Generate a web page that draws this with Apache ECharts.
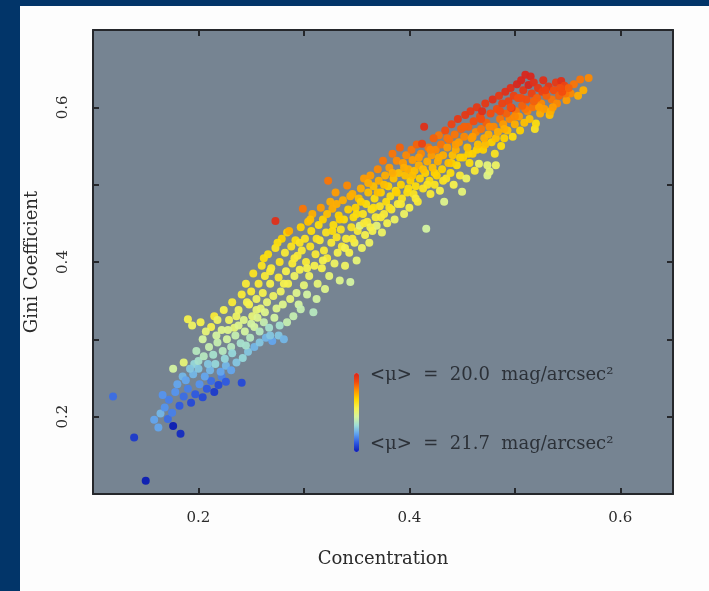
<!DOCTYPE html>
<html>
<head>
<meta charset="utf-8">
<title>Gini vs Concentration</title>
<script src="https://cdn.jsdelivr.net/npm/echarts@6/dist/echarts.min.js"></script>
<style>
  html, body { margin: 0; padding: 0; }
  body { width: 709px; height: 591px; background: #023569; position: relative; overflow: hidden; }
  #panel { position: absolute; left: 20px; top: 6px; right: 0; bottom: 0; background: #fdfdfd; }
  #main { position: absolute; left: 0; top: 0; width: 709px; height: 591px; }
</style>
</head>
<body>
<div id="panel"></div>
<div id="main"></div>
<script>
"use strict";

// [concentration, gini, <mu> mag/arcsec^2]
var blueTail = [
	[0.119,0.226,21.45],[0.139,0.173,21.6],[0.150,0.117,21.7],[0.158,0.196,21.3],[0.162,0.186,21.3],
	[0.164,0.204,21.25],[0.168,0.212,21.35],[0.171,0.197,21.45],[0.172,0.222,21.4],[0.175,0.205,21.4],
	[0.176,0.188,21.7],[0.178,0.232,21.35],[0.183,0.178,21.65],[0.182,0.214,21.5],[0.186,0.226,21.45],
	[0.190,0.236,21.4],[0.193,0.218,21.55],[0.197,0.229,21.5],[0.201,0.242,21.35],[0.204,0.225,21.55],
	[0.208,0.236,21.5],[0.212,0.246,21.45],[0.215,0.232,21.6],[0.219,0.241,21.55],[0.222,0.252,21.4],
	[0.226,0.245,21.5],[0.241,0.244,21.55],[0.166,0.228,21.35],[0.180,0.242,21.3],[0.185,0.252,21.25]
];

var cyanBand = [
	[0.176,0.262,20.95],[0.186,0.270,20.85],[0.188,0.247,21.3],[0.195,0.255,21.25],[0.196,0.268,21.15],
	[0.200,0.262,21.2],[0.200,0.272,21.1],[0.205,0.278,21.05],[0.206,0.252,21.3],[0.210,0.290,21.0],
	[0.211,0.260,21.25],[0.214,0.280,21.1],[0.216,0.268,21.15],[0.218,0.296,21.0],[0.221,0.258,21.3],
	[0.223,0.285,21.05],[0.226,0.266,21.25],[0.227,0.300,20.95],[0.231,0.290,21.05],[0.231,0.260,21.3],
	[0.235,0.305,21.0],[0.236,0.270,21.2],[0.240,0.295,21.1],[0.242,0.276,21.15],[0.244,0.310,20.95],
	[0.247,0.284,21.2],[0.249,0.302,21.05],[0.253,0.316,20.95],[0.253,0.290,21.25],[0.258,0.310,21.05],
	[0.258,0.296,21.2],[0.262,0.322,21.0],[0.264,0.302,21.25],[0.267,0.315,21.1],[0.270,0.298,21.3],
	[0.272,0.328,20.95],[0.276,0.305,21.2],[0.281,0.300,21.25],[0.284,0.322,21.0],[0.290,0.330,21.0],
	[0.295,0.345,20.95],[0.297,0.339,21.0],[0.303,0.358,20.95],[0.309,0.335,21.05],[0.312,0.352,20.95],
	[0.192,0.262,21.2],[0.198,0.285,21.05],[0.204,0.300,20.95],[0.209,0.268,21.2],[0.217,0.305,20.95],
	[0.225,0.275,21.15],[0.232,0.282,21.15],[0.245,0.292,21.1],[0.250,0.320,20.95],[0.268,0.305,21.2],
	[0.277,0.318,21.1]
];

var yellowBand = [
	[0.190,0.326,20.75],[0.202,0.322,20.75],[0.212,0.316,20.75],[0.215,0.330,20.7],[0.222,0.312,20.9],
	[0.224,0.338,20.75],[0.229,0.325,20.8],[0.232,0.348,20.7],[0.234,0.315,20.85],[0.238,0.338,20.8],
	[0.241,0.358,20.7],[0.243,0.325,20.9],[0.245,0.372,20.7],[0.248,0.345,20.75],[0.250,0.362,20.7],
	[0.251,0.330,20.85],[0.252,0.385,20.65],[0.255,0.352,20.8],[0.257,0.372,20.7],[0.259,0.340,20.85],
	[0.260,0.395,20.65],[0.261,0.360,20.75],[0.263,0.382,20.7],[0.265,0.348,20.85],[0.266,0.410,20.6],
	[0.268,0.372,20.75],[0.269,0.392,20.7],[0.271,0.356,20.8],[0.273,0.418,20.65],[0.274,0.340,20.9],
	[0.276,0.380,20.7],[0.277,0.400,20.65],[0.278,0.362,20.8],[0.279,0.430,20.55],[0.280,0.345,20.9],
	[0.282,0.412,20.7],[0.283,0.388,20.75],[0.285,0.372,20.75],[0.287,0.352,20.85],[0.288,0.420,20.65],
	[0.289,0.398,20.7],[0.291,0.382,20.8],[0.292,0.428,20.6],[0.293,0.360,20.9],[0.294,0.408,20.7],
	[0.296,0.390,20.75],[0.297,0.445,20.55],[0.298,0.415,20.7],[0.300,0.370,20.85],[0.301,0.430,20.65],
	[0.302,0.400,20.7],[0.305,0.382,20.8],[0.306,0.420,20.65],[0.307,0.440,20.6],[0.310,0.395,20.75],
	[0.311,0.410,20.7],[0.313,0.372,20.85],[0.314,0.448,20.6],[0.315,0.428,20.7],[0.317,0.392,20.75],
	[0.318,0.455,20.55],[0.319,0.415,20.7],[0.320,0.365,20.9],[0.321,0.438,20.65],[0.322,0.405,20.7],
	[0.324,0.382,20.85],[0.326,0.425,20.7],[0.328,0.448,20.6],[0.329,0.398,20.8],[0.331,0.432,20.65],
	[0.332,0.412,20.75],[0.333,0.460,20.55],[0.334,0.376,20.9],[0.335,0.442,20.65],[0.336,0.420,20.7],
	[0.338,0.455,20.6],[0.339,0.395,20.8],[0.340,0.430,20.7],[0.342,0.468,20.55],[0.343,0.412,20.75],
	[0.344,0.374,20.95],[0.345,0.445,20.65],[0.347,0.458,20.6],[0.348,0.425,20.75],[0.349,0.470,20.55],
	[0.350,0.402,20.85],[0.351,0.440,20.7],[0.353,0.447,20.85],[0.355,0.418,20.8],[0.356,0.462,20.65],
	[0.358,0.435,20.75],[0.359,0.475,20.6],[0.360,0.452,20.7],[0.362,0.425,20.8],[0.364,0.468,20.65],
	[0.365,0.440,20.75],[0.367,0.482,20.6],[0.368,0.458,20.7],[0.369,0.447,20.85],[0.372,0.472,20.65],
	[0.373,0.490,20.55],[0.374,0.438,20.8],[0.376,0.462,20.7],[0.378,0.478,20.6],[0.379,0.450,20.75],
	[0.380,0.498,20.55],[0.382,0.485,20.6],[0.383,0.468,20.7],[0.386,0.455,20.8],[0.387,0.492,20.6],
	[0.389,0.475,20.7],[0.392,0.500,20.55],[0.393,0.482,20.65],[0.395,0.462,20.8],[0.398,0.490,20.6],
	[0.400,0.470,20.75],[0.401,0.505,20.55],[0.404,0.488,20.65],[0.406,0.498,20.6],[0.408,0.478,20.7],
	[0.410,0.508,20.55],[0.413,0.495,20.65],[0.415,0.515,20.55],[0.416,0.443,20.95],[0.419,0.505,20.6],
	[0.420,0.488,20.7],[0.424,0.500,20.65],[0.426,0.512,20.55],[0.429,0.492,20.75],[0.431,0.520,20.55],
	[0.433,0.478,20.9],[0.435,0.508,20.65],[0.439,0.515,20.6],[0.442,0.500,20.75],[0.445,0.525,20.6],
	[0.448,0.512,20.7],[0.450,0.491,20.85],[0.451,0.535,20.55],[0.454,0.508,20.8],[0.457,0.528,20.6],
	[0.460,0.540,20.55],[0.462,0.518,20.7],[0.466,0.527,20.8],[0.470,0.545,20.55],[0.474,0.525,20.85],
	[0.474,0.512,20.9],[0.476,0.517,20.85],[0.478,0.555,20.55],[0.481,0.540,20.65],[0.482,0.525,20.8],
	[0.487,0.550,20.6],[0.490,0.560,20.55],[0.493,0.570,20.5],[0.498,0.562,20.6],[0.505,0.570,20.55],
	[0.519,0.572,20.65],[0.520,0.579,20.6],
	[0.228,0.312,20.9],[0.236,0.330,20.8],[0.246,0.348,20.75],[0.255,0.338,20.85],[0.262,0.405,20.6],
	[0.268,0.388,20.7],[0.275,0.425,20.6],[0.281,0.372,20.75],[0.284,0.438,20.55],[0.291,0.405,20.7],
	[0.296,0.425,20.65],[0.303,0.392,20.75],[0.312,0.430,20.65],[0.318,0.402,20.75],[0.327,0.440,20.6],
	[0.334,0.455,20.55],[0.339,0.418,20.75],[0.346,0.430,20.7],[0.350,0.462,20.6],[0.357,0.450,20.7],
	[0.363,0.445,20.75],[0.366,0.470,20.6],[0.373,0.458,20.7],[0.381,0.470,20.65],[0.388,0.490,20.55],
	[0.392,0.475,20.7],[0.399,0.495,20.6],[0.406,0.482,20.7],[0.417,0.500,20.65],[0.424,0.515,20.55],
	[0.432,0.505,20.65],[0.440,0.528,20.55],[0.448,0.535,20.55],[0.456,0.540,20.55],[0.464,0.545,20.55],
	[0.472,0.552,20.5],[0.482,0.560,20.5],[0.194,0.318,20.8],[0.207,0.310,20.85],[0.218,0.325,20.8],
	[0.238,0.318,20.9],[0.256,0.328,20.9],[0.263,0.335,20.9]
];

var orangeBand = [
	[0.286,0.440,20.45],[0.299,0.469,20.3],[0.304,0.452,20.5],[0.308,0.462,20.45],[0.316,0.470,20.4],
	[0.323,0.505,20.3],[0.325,0.478,20.45],[0.327,0.469,20.45],[0.330,0.490,20.4],[0.337,0.480,20.45],
	[0.341,0.499,20.35],[0.346,0.488,20.45],[0.352,0.482,20.5],[0.354,0.495,20.45],[0.357,0.508,20.4],
	[0.361,0.490,20.5],[0.363,0.512,20.4],[0.366,0.498,20.5],[0.370,0.520,20.35],[0.371,0.505,20.45],
	[0.375,0.531,20.3],[0.377,0.512,20.45],[0.381,0.522,20.4],[0.384,0.540,20.3],[0.385,0.508,20.5],
	[0.388,0.531,20.35],[0.390,0.515,20.5],[0.394,0.528,20.4],[0.396,0.512,20.5],[0.397,0.538,20.35],
	[0.399,0.520,20.45],[0.402,0.545,20.3],[0.403,0.532,20.4],[0.405,0.518,20.5],[0.409,0.525,20.45],
	[0.411,0.540,20.35],[0.417,0.530,20.45],[0.418,0.548,20.3],[0.421,0.538,20.4],[0.422,0.522,20.5],
	[0.425,0.545,20.35],[0.427,0.530,20.45],[0.428,0.564,20.3],[0.430,0.552,20.3],[0.432,0.538,20.45],
	[0.436,0.548,20.4],[0.437,0.528,20.5],[0.438,0.558,20.3],[0.441,0.538,20.5],[0.443,0.565,20.3],
	[0.444,0.545,20.45],[0.447,0.555,20.4],[0.452,0.562,20.35],[0.455,0.548,20.5],[0.459,0.560,20.4],
	[0.463,0.568,20.35],[0.465,0.552,20.5],[0.468,0.572,20.3],[0.471,0.560,20.45],[0.473,0.580,20.25],
	[0.475,0.565,20.45],[0.480,0.575,20.35],[0.484,0.568,20.45],[0.486,0.585,20.3],[0.489,0.578,20.4],
	[0.495,0.585,20.35],[0.500,0.578,20.45],[0.501,0.595,20.3],[0.504,0.588,20.4],[0.509,0.580,20.5],
	[0.512,0.595,20.35],[0.514,0.585,20.5],[0.517,0.600,20.3],[0.524,0.592,20.45],[0.525,0.605,20.35],
	[0.528,0.598,20.4],[0.533,0.590,20.5],[0.534,0.595,20.45],[0.535,0.610,20.3],[0.540,0.605,20.35],
	[0.549,0.609,20.4],[0.553,0.618,20.35],[0.556,0.630,20.3],[0.560,0.615,20.45],[0.562,0.636,20.3],
	[0.565,0.622,20.45],[0.570,0.638,20.35],
	[0.306,0.455,20.5],[0.322,0.462,20.5],[0.331,0.475,20.45],[0.344,0.485,20.45],[0.354,0.478,20.55],
	[0.361,0.502,20.45],[0.370,0.490,20.5],[0.376,0.500,20.5],[0.384,0.515,20.45],[0.395,0.522,20.45],
	[0.403,0.512,20.5],[0.409,0.535,20.4],[0.413,0.520,20.5],[0.420,0.545,20.35],[0.428,0.535,20.45],
	[0.444,0.552,20.4],[0.460,0.562,20.4],[0.476,0.575,20.35],[0.490,0.572,20.45],[0.500,0.588,20.35],
	[0.510,0.598,20.3],[0.523,0.600,20.4],[0.536,0.600,20.4],[0.548,0.618,20.3]
];

var redTip = [
	[0.273,0.453,20.05],[0.391,0.548,20.25],[0.407,0.552,20.25],[0.412,0.553,20.15],[0.414,0.575,20.05],
	[0.423,0.560,20.25],[0.434,0.570,20.2],[0.440,0.578,20.15],[0.446,0.585,20.1],[0.449,0.572,20.25],
	[0.453,0.590,20.1],[0.456,0.575,20.25],[0.458,0.595,20.1],[0.461,0.582,20.2],[0.464,0.600,20.1],
	[0.467,0.588,20.2],[0.469,0.595,20.05],[0.472,0.605,20.1],[0.477,0.592,20.2],[0.479,0.610,20.05],
	[0.483,0.598,20.2],[0.485,0.615,20.1],[0.488,0.605,20.15],[0.491,0.620,20.05],[0.492,0.592,20.25],
	[0.494,0.608,20.15],[0.496,0.625,20.05],[0.497,0.599,20.1],[0.499,0.615,20.15],[0.502,0.630,20.0],
	[0.503,0.612,20.2],[0.506,0.635,20.0],[0.507,0.602,20.25],[0.508,0.622,20.1],[0.510,0.642,20.0],
	[0.511,0.610,20.2],[0.513,0.629,20.0],[0.515,0.640,20.0],[0.516,0.618,20.15],[0.518,0.632,20.05],
	[0.521,0.612,20.25],[0.522,0.625,20.1],[0.526,0.620,20.15],[0.527,0.635,20.05],[0.530,0.615,20.25],
	[0.532,0.627,20.1],[0.537,0.622,20.2],[0.539,0.632,20.1],[0.542,0.615,20.25],[0.544,0.634,20.05],
	[0.545,0.620,20.2],[0.547,0.628,20.15],[0.551,0.625,20.25],
	[0.436,0.560,20.3],[0.452,0.575,20.25],[0.468,0.585,20.2],[0.486,0.595,20.2],[0.496,0.600,20.2],
	[0.506,0.612,20.2],[0.518,0.608,20.25],[0.529,0.622,20.15],[0.543,0.625,20.2]
];

var xTicks = [0.2, 0.4, 0.6];
var yTicks = [0.2, 0.4, 0.6];
var muRange = [20.0, 21.7];
var muColors = ['#d8261c', '#f2480f', '#ff9400', '#ffd800', '#f6f250', '#d6f4a0', '#9cdcd8', '#5c9ef0', '#2b55e0', '#0c1cb4'];

var chart = echarts.init(document.getElementById('main'), null, { renderer: 'canvas' });

var frameColor = '#25272b';
var labelFont = '"DejaVu Serif", "Liberation Serif", serif';

function tickLabel(list) {
	return function(v) {
		for (var i = 0; i < list.length; i++) {
			if (Math.abs(v - list[i]) < 1e-6) return list[i].toFixed(1);
		}
		return '';
	};
}

function axisBase(extra) {
	var a = {
		type: 'value',
		interval: 0.1,
		axisLine: { show: true, onZero: false, lineStyle: { color: frameColor, width: 2 } },
		axisTick: { show: true, inside: true, length: 6, lineStyle: { color: frameColor, width: 2 } },
		splitLine: { show: false },
		axisLabel: { show: false }
	};
	for (var k in extra) a[k] = extra[k];
	return a;
}

var option = {
	backgroundColor: 'transparent',
	animation: false,
	grid: {
		left: 93, right: 36, top: 30, bottom: 97,
		show: true,
		backgroundColor: '#768492',
		borderColor: frameColor,
		borderWidth: 0
	},
	xAxis: [
		axisBase({
			min: 0.1, max: 0.65, position: 'bottom',
			name: 'Concentration', nameLocation: 'middle', nameGap: 56,
			nameTextStyle: { fontFamily: labelFont, fontSize: 18, color: '#2b2b2b' },
			axisLabel: { show: true, margin: 17, formatter: tickLabel(xTicks), fontFamily: labelFont, fontSize: 15, color: '#2b2b2b' }
		}),
		axisBase({ min: 0.1, max: 0.65, position: 'top' })
	],
	yAxis: [
		axisBase({
			min: 0.1, max: 0.7, position: 'left',
			name: 'Gini Coefficient', nameLocation: 'middle', nameGap: 52, nameRotate: 90,
			nameTextStyle: { fontFamily: labelFont, fontSize: 18, color: '#2b2b2b' },
			axisLabel: { show: true, rotate: 90, margin: 22, formatter: tickLabel(yTicks), fontFamily: labelFont, fontSize: 15, color: '#2b2b2b' }
		}),
		axisBase({ min: 0.1, max: 0.7, position: 'right' })
	],
	visualMap: {
		type: 'continuous',
		dimension: 2,
		min: muRange[0],
		max: muRange[1],
		inverse: true,
		orient: 'vertical',
		left: 354,
		top: 373,
		padding: 0,
		itemWidth: 5,
		itemHeight: 79,
		calculable: false,
		hoverLink: false,
		text: null,
		seriesIndex: 0,
		inRange: { color: muColors }
	},
	graphic: [
		{
			type: 'text', left: 370, top: 366, z: 10,
			style: { text: '<μ>  =  20.0  mag/arcsec²', font: '18px ' + labelFont, fill: '#2c3138' }
		},
		{
			type: 'text', left: 370, top: 435, z: 10,
			style: { text: '<μ>  =  21.7  mag/arcsec²', font: '18px ' + labelFont, fill: '#2c3138' }
		}
	],
	series: [{
		type: 'scatter',
		xAxisIndex: 0,
		yAxisIndex: 0,
		symbol: 'circle',
		symbolSize: 8,
		itemStyle: { opacity: 0.95 },
		data: blueTail.concat(cyanBand, yellowBand, orangeBand, redTip)
	}]
};

chart.setOption(option);
</script>
</body>
</html>
